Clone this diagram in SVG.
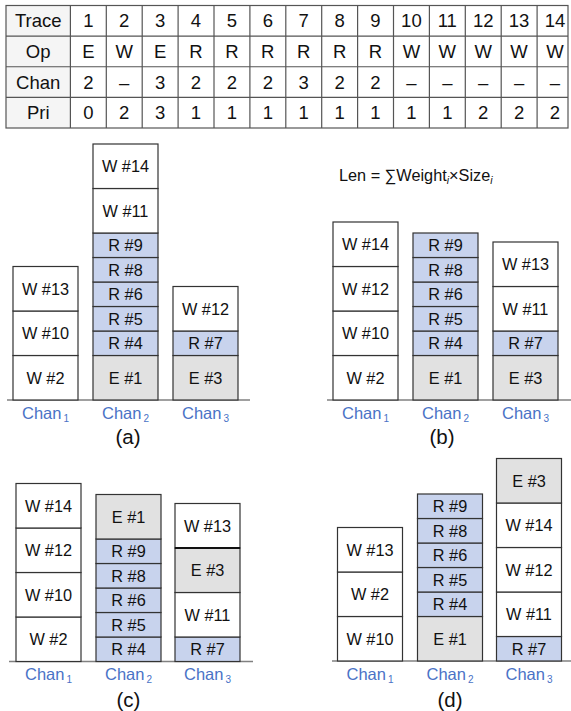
<svg xmlns="http://www.w3.org/2000/svg" width="571" height="711" viewBox="0 0 571 711">
<style>
text{font-family:"Liberation Sans",Arial,sans-serif;fill:#111}
.tb{font-size:18.5px;text-anchor:middle}
.tl{stroke:#555;stroke-width:1.2;fill:none}
.b{font-size:16.3px;text-anchor:middle}
.w{fill:#fff;stroke:#333;stroke-width:1.2}
.r{fill:#c8d3ed;stroke:#333;stroke-width:1.2}
.e{fill:#e1e1e1;stroke:#333;stroke-width:1.2}
.base{stroke:#808080;stroke-width:1.4}
.ch{font-size:16.5px;text-anchor:middle;fill:#4a72c6}
.ch tspan{font-size:10px;fill:#4a72c6}
.pl{font-size:20.5px;text-anchor:middle}
.f{font-size:16.3px}
</style>

<g id="table">
<rect x="6" y="5.5" width="64.4" height="122.5" fill="#f5f5f5"/>
<g class="tl">
<rect x="6" y="5.5" width="562" height="122.5"/>
<line x1="6" y1="36.1" x2="568" y2="36.1"/>
<line x1="6" y1="66.75" x2="568" y2="66.75"/>
<line x1="6" y1="97.4" x2="568" y2="97.4"/>
<line x1="70.4" y1="5.5" x2="70.4" y2="128"/>
<line x1="106.3" y1="5.5" x2="106.3" y2="128"/>
<line x1="142.2" y1="5.5" x2="142.2" y2="128"/>
<line x1="178.1" y1="5.5" x2="178.1" y2="128"/>
<line x1="214" y1="5.5" x2="214" y2="128"/>
<line x1="249.9" y1="5.5" x2="249.9" y2="128"/>
<line x1="285.8" y1="5.5" x2="285.8" y2="128"/>
<line x1="321.7" y1="5.5" x2="321.7" y2="128"/>
<line x1="357.6" y1="5.5" x2="357.6" y2="128"/>
<line x1="393.5" y1="5.5" x2="393.5" y2="128"/>
<line x1="429.4" y1="5.5" x2="429.4" y2="128"/>
<line x1="465.3" y1="5.5" x2="465.3" y2="128"/>
<line x1="501.2" y1="5.5" x2="501.2" y2="128"/>
<line x1="537.1" y1="5.5" x2="537.1" y2="128"/>
</g>
<g class="tb">
<text x="38.2" y="27.4">Trace</text>
<text x="38.2" y="58">Op</text>
<text x="38.2" y="88.6">Chan</text>
<text x="38.2" y="119.2">Pri</text>
</g>
<g class="tb">
<text x="88.3" y="27.4">1</text><text x="124.2" y="27.4">2</text><text x="160.1" y="27.4">3</text><text x="196" y="27.4">4</text><text x="231.9" y="27.4">5</text><text x="267.8" y="27.4">6</text><text x="303.7" y="27.4">7</text><text x="339.6" y="27.4">8</text><text x="375.5" y="27.4">9</text><text x="411.4" y="27.4">10</text><text x="447.3" y="27.4">11</text><text x="483.2" y="27.4">12</text><text x="519.1" y="27.4">13</text><text x="555" y="27.4">14</text>
<text x="88.3" y="58">E</text><text x="124.2" y="58">W</text><text x="160.1" y="58">E</text><text x="196" y="58">R</text><text x="231.9" y="58">R</text><text x="267.8" y="58">R</text><text x="303.7" y="58">R</text><text x="339.6" y="58">R</text><text x="375.5" y="58">R</text><text x="411.4" y="58">W</text><text x="447.3" y="58">W</text><text x="483.2" y="58">W</text><text x="519.1" y="58">W</text><text x="555" y="58">W</text>
<text x="88.3" y="88.6">2</text><text x="124.2" y="88.6">–</text><text x="160.1" y="88.6">3</text><text x="196" y="88.6">2</text><text x="231.9" y="88.6">2</text><text x="267.8" y="88.6">2</text><text x="303.7" y="88.6">3</text><text x="339.6" y="88.6">2</text><text x="375.5" y="88.6">2</text><text x="411.4" y="88.6">–</text><text x="447.3" y="88.6">–</text><text x="483.2" y="88.6">–</text><text x="519.1" y="88.6">–</text><text x="555" y="88.6">–</text>
<text x="88.3" y="119.2">0</text><text x="124.2" y="119.2">2</text><text x="160.1" y="119.2">3</text><text x="196" y="119.2">1</text><text x="231.9" y="119.2">1</text><text x="267.8" y="119.2">1</text><text x="303.7" y="119.2">1</text><text x="339.6" y="119.2">1</text><text x="375.5" y="119.2">1</text><text x="411.4" y="119.2">1</text><text x="447.3" y="119.2">1</text><text x="483.2" y="119.2">2</text><text x="519.1" y="119.2">2</text><text x="555" y="119.2">2</text>
</g>
</g>

<text id="formula" class="f" x="339" y="180.5">Len = ∑Weight<tspan font-size="10.5" font-style="italic" dy="3">i</tspan><tspan dy="-3">×Size</tspan><tspan font-size="10.5" font-style="italic" dy="3">i</tspan></text>

<!-- Panel (a) -->
<g id="panel-a">
<line class="base" x1="7" y1="400" x2="250" y2="400"/>
<g id="a-c1-w2"><rect class="w" x="13" y="355.5" width="65" height="44.5"/><text class="b" x="45.5" y="383.6">W #2</text></g>
<g id="a-c1-w10"><rect class="w" x="13" y="311" width="65" height="44.5"/><text class="b" x="45.5" y="339.1">W #10</text></g>
<g id="a-c1-w13"><rect class="w" x="13" y="266.5" width="65" height="44.5"/><text class="b" x="45.5" y="294.6">W #13</text></g>
<g id="a-c2-e1"><rect class="e" x="93" y="355.5" width="65" height="44.5"/><text class="b" x="125.5" y="383.6">E #1</text></g>
<g id="a-c2-r4"><rect class="r" x="93" y="331" width="65" height="24.5"/><text class="b" x="125.5" y="349.1">R #4</text></g>
<g id="a-c2-r5"><rect class="r" x="93" y="306.5" width="65" height="24.5"/><text class="b" x="125.5" y="324.6">R #5</text></g>
<g id="a-c2-r6"><rect class="r" x="93" y="282" width="65" height="24.5"/><text class="b" x="125.5" y="300.1">R #6</text></g>
<g id="a-c2-r8"><rect class="r" x="93" y="257.5" width="65" height="24.5"/><text class="b" x="125.5" y="275.6">R #8</text></g>
<g id="a-c2-r9"><rect class="r" x="93" y="233" width="65" height="24.5"/><text class="b" x="125.5" y="251.1">R #9</text></g>
<g id="a-c2-w11"><rect class="w" x="93" y="188.5" width="65" height="44.5"/><text class="b" x="125.5" y="216.6">W #11</text></g>
<g id="a-c2-w14"><rect class="w" x="93" y="144" width="65" height="44.5"/><text class="b" x="125.5" y="172.1">W #14</text></g>
<g id="a-c3-e3"><rect class="e" x="173" y="355.5" width="65" height="44.5"/><text class="b" x="205.5" y="383.6">E #3</text></g>
<g id="a-c3-r7"><rect class="r" x="173" y="331" width="65" height="24.5"/><text class="b" x="205.5" y="349.1">R #7</text></g>
<g id="a-c3-w12"><rect class="w" x="173" y="286.5" width="65" height="44.5"/><text class="b" x="205.5" y="314.6">W #12</text></g>
<text class="ch" x="45.5" y="418.5">Chan<tspan dx="2" dy="3">1</tspan></text>
<text class="ch" x="125.5" y="418.5">Chan<tspan dx="2" dy="3">2</tspan></text>
<text class="ch" x="205.5" y="418.5">Chan<tspan dx="2" dy="3">3</tspan></text>
<text class="pl" x="128" y="444">(a)</text>
</g>

<!-- Panel (b) -->
<g id="panel-b">
<line class="base" x1="327" y1="400" x2="571" y2="400"/>
<g id="b-c1-w2"><rect class="w" x="333" y="355.5" width="65" height="44.5"/><text class="b" x="365.5" y="383.6">W #2</text></g>
<g id="b-c1-w10"><rect class="w" x="333" y="311" width="65" height="44.5"/><text class="b" x="365.5" y="339.1">W #10</text></g>
<g id="b-c1-w12"><rect class="w" x="333" y="266.5" width="65" height="44.5"/><text class="b" x="365.5" y="294.6">W #12</text></g>
<g id="b-c1-w14"><rect class="w" x="333" y="222" width="65" height="44.5"/><text class="b" x="365.5" y="250.1">W #14</text></g>
<g id="b-c2-e1"><rect class="e" x="413" y="355.5" width="65" height="44.5"/><text class="b" x="445.5" y="383.6">E #1</text></g>
<g id="b-c2-r4"><rect class="r" x="413" y="331" width="65" height="24.5"/><text class="b" x="445.5" y="349.1">R #4</text></g>
<g id="b-c2-r5"><rect class="r" x="413" y="306.5" width="65" height="24.5"/><text class="b" x="445.5" y="324.6">R #5</text></g>
<g id="b-c2-r6"><rect class="r" x="413" y="282" width="65" height="24.5"/><text class="b" x="445.5" y="300.1">R #6</text></g>
<g id="b-c2-r8"><rect class="r" x="413" y="257.5" width="65" height="24.5"/><text class="b" x="445.5" y="275.6">R #8</text></g>
<g id="b-c2-r9"><rect class="r" x="413" y="233" width="65" height="24.5"/><text class="b" x="445.5" y="251.1">R #9</text></g>
<g id="b-c3-e3"><rect class="e" x="493" y="355.5" width="65" height="44.5"/><text class="b" x="525.5" y="383.6">E #3</text></g>
<g id="b-c3-r7"><rect class="r" x="493" y="331" width="65" height="24.5"/><text class="b" x="525.5" y="349.1">R #7</text></g>
<g id="b-c3-w11"><rect class="w" x="493" y="286.5" width="65" height="44.5"/><text class="b" x="525.5" y="314.6">W #11</text></g>
<g id="b-c3-w13"><rect class="w" x="493" y="242" width="65" height="44.5"/><text class="b" x="525.5" y="270.1">W #13</text></g>
<text class="ch" x="365.5" y="418.5">Chan<tspan dx="2" dy="3">1</tspan></text>
<text class="ch" x="445.5" y="418.5">Chan<tspan dx="2" dy="3">2</tspan></text>
<text class="ch" x="525.5" y="418.5">Chan<tspan dx="2" dy="3">3</tspan></text>
<text class="pl" x="442" y="444">(b)</text>
</g>

<!-- Panel (c) -->
<g id="panel-c">
<line class="base" x1="9" y1="661.5" x2="253" y2="661.5"/>
<g id="c-c1-w2"><rect class="w" x="16" y="617" width="65" height="44.5"/><text class="b" x="48.5" y="645.1">W #2</text></g>
<g id="c-c1-w10"><rect class="w" x="16" y="572.5" width="65" height="44.5"/><text class="b" x="48.5" y="600.6">W #10</text></g>
<g id="c-c1-w12"><rect class="w" x="16" y="528" width="65" height="44.5"/><text class="b" x="48.5" y="556.1">W #12</text></g>
<g id="c-c1-w14"><rect class="w" x="16" y="483.5" width="65" height="44.5"/><text class="b" x="48.5" y="511.6">W #14</text></g>
<g id="c-c2-r4"><rect class="r" x="96" y="637" width="65" height="24.5"/><text class="b" x="128.5" y="655.1">R #4</text></g>
<g id="c-c2-r5"><rect class="r" x="96" y="612.5" width="65" height="24.5"/><text class="b" x="128.5" y="630.6">R #5</text></g>
<g id="c-c2-r6"><rect class="r" x="96" y="588" width="65" height="24.5"/><text class="b" x="128.5" y="606.1">R #6</text></g>
<g id="c-c2-r8"><rect class="r" x="96" y="563.5" width="65" height="24.5"/><text class="b" x="128.5" y="581.6">R #8</text></g>
<g id="c-c2-r9"><rect class="r" x="96" y="539" width="65" height="24.5"/><text class="b" x="128.5" y="557.1">R #9</text></g>
<g id="c-c2-e1"><rect class="e" x="96" y="494.5" width="65" height="44.5"/><text class="b" x="128.5" y="522.6">E #1</text></g>
<g id="c-c3-r7"><rect class="r" x="175" y="637" width="65" height="24.5"/><text class="b" x="207.5" y="655.1">R #7</text></g>
<g id="c-c3-w11"><rect class="w" x="175" y="592.5" width="65" height="44.5"/><text class="b" x="207.5" y="620.6">W #11</text></g>
<g id="c-c3-e3"><rect class="e" x="175" y="548" width="65" height="44.5"/><text class="b" x="207.5" y="576.1">E #3</text></g>
<g id="c-c3-w13"><rect class="w" x="175" y="503.5" width="65" height="44.5"/><text class="b" x="207.5" y="531.6">W #13</text></g>
<line x1="175" y1="548" x2="240" y2="548" stroke="#111" stroke-width="2"/>
<text class="ch" x="48.5" y="680">Chan<tspan dx="2" dy="3">1</tspan></text>
<text class="ch" x="128.5" y="680">Chan<tspan dx="2" dy="3">2</tspan></text>
<text class="ch" x="207.5" y="680">Chan<tspan dx="2" dy="3">3</tspan></text>
<text class="pl" x="128.5" y="707">(c)</text>
</g>

<!-- Panel (d) -->
<g id="panel-d">
<line class="base" x1="332" y1="661" x2="571" y2="661"/>
<g id="d-c1-w10"><rect class="w" x="337.5" y="616.5" width="65" height="44.5"/><text class="b" x="370" y="644.6">W #10</text></g>
<g id="d-c1-w2"><rect class="w" x="337.5" y="572" width="65" height="44.5"/><text class="b" x="370" y="600.1">W #2</text></g>
<g id="d-c1-w13"><rect class="w" x="337.5" y="527.5" width="65" height="44.5"/><text class="b" x="370" y="555.6">W #13</text></g>
<g id="d-c2-e1"><rect class="e" x="417.5" y="616.5" width="65" height="44.5"/><text class="b" x="450" y="644.6">E #1</text></g>
<g id="d-c2-r4"><rect class="r" x="417.5" y="592" width="65" height="24.5"/><text class="b" x="450" y="610.1">R #4</text></g>
<g id="d-c2-r5"><rect class="r" x="417.5" y="567.5" width="65" height="24.5"/><text class="b" x="450" y="585.6">R #5</text></g>
<g id="d-c2-r6"><rect class="r" x="417.5" y="543" width="65" height="24.5"/><text class="b" x="450" y="561.1">R #6</text></g>
<g id="d-c2-r8"><rect class="r" x="417.5" y="518.5" width="65" height="24.5"/><text class="b" x="450" y="536.6">R #8</text></g>
<g id="d-c2-r9"><rect class="r" x="417.5" y="494" width="65" height="24.5"/><text class="b" x="450" y="512.1">R #9</text></g>
<g id="d-c3-r7"><rect class="r" x="496.5" y="636.5" width="65" height="24.5"/><text class="b" x="529" y="654.6">R #7</text></g>
<g id="d-c3-w11"><rect class="w" x="496.5" y="592" width="65" height="44.5"/><text class="b" x="529" y="620.1">W #11</text></g>
<g id="d-c3-w12"><rect class="w" x="496.5" y="547.5" width="65" height="44.5"/><text class="b" x="529" y="575.6">W #12</text></g>
<g id="d-c3-w14"><rect class="w" x="496.5" y="503" width="65" height="44.5"/><text class="b" x="529" y="531.1">W #14</text></g>
<g id="d-c3-e3"><rect class="e" x="496.5" y="458.5" width="65" height="44.5"/><text class="b" x="529" y="486.6">E #3</text></g>
<text class="ch" x="370" y="680">Chan<tspan dx="2" dy="3">1</tspan></text>
<text class="ch" x="450" y="680">Chan<tspan dx="2" dy="3">2</tspan></text>
<text class="ch" x="529" y="680">Chan<tspan dx="2" dy="3">3</tspan></text>
<text class="pl" x="450" y="707">(d)</text>
</g>

<g id="connectors"/>
</svg>
